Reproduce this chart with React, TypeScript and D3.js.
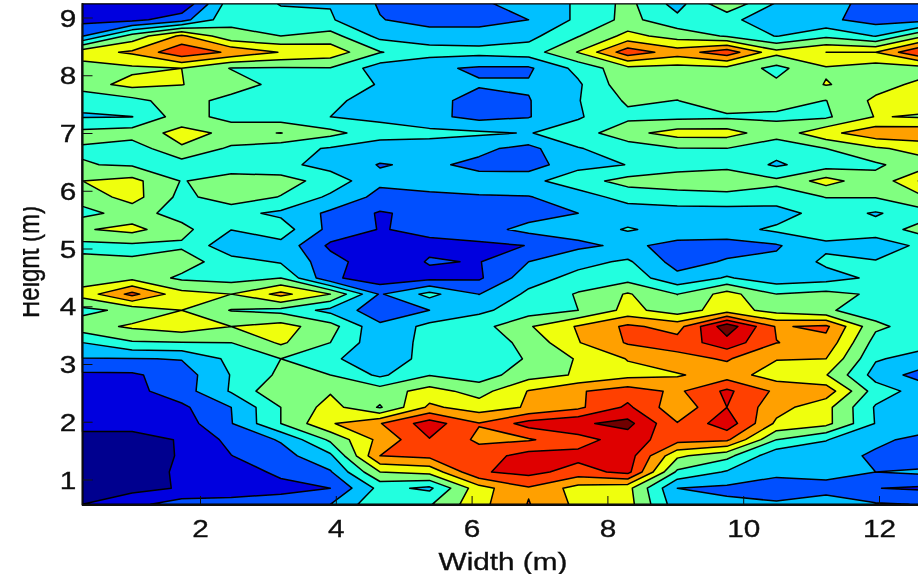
import React, { useEffect, useRef } from "react";
import * as d3 from "d3";

// grid positions of the measurements, in metres
const widths = [0.27, 1.0, 1.73, 2.46, 3.19, 3.92, 4.65, 5.38, 6.11, 6.84, 7.57, 8.3, 9.03, 9.76, 10.49, 11.22, 11.95, 12.69];
const heights = [9.24, 8.96, 8.68, 8.4, 8.12, 7.84, 7.56, 7.28, 7.0, 6.73, 6.45, 6.17, 5.89, 5.61, 5.33, 5.05, 4.77, 4.49, 4.21, 3.93, 3.65, 3.37, 3.09, 2.81, 2.53, 2.25, 1.97, 1.69, 1.41, 1.13, 0.85, 0.57];

const xTicks = [2, 4, 6, 8, 10, 12];
const yTicks = [1, 2, 3, 4, 5, 6, 7, 8, 9];
const levels = [0, 1, 2, 3, 4, 5, 6, 7, 8, 9, 10];

// one list per height, top of the plot first
const r31 = [1.1, 1.1, 1.1, 4.6, 3.95, 3.95, 2.9, 2.7, 2.8, 3.5, 4.1, 5.3, 3.6, 5.8, 3.9, 3.3, 2.7, 2.3];
const r30 = [1.7, 1.7, 2.6, 4.8, 4.3, 4.1, 3.05, 2.6, 2.6, 3.0, 4.2, 5.3, 4.3, 4.3, 3.3, 3.2, 2.6, 2.7];
const r29 = [2.95, 5.4, 7.2, 5.23, 5.0, 5.4, 3.7, 3.5, 3.5, 3.7, 4.95, 6.3, 5.6, 4.9, 3.95, 4.8, 3.95, 6.0];
const r28 = [6.6, 7.15, 8.75, 7.8, 6.95, 6.6, 5.05, 4.4, 4.3, 4.5, 6.05, 8.6, 7.5, 8.6, 6.3, 7.0, 7.0, 9.2];
const r27 = [5.5, 5.8, 6.0, 4.95, 4.9, 4.95, 3.5, 3.2, 2.85, 2.85, 4.3, 5.7, 5.6, 5.7, 4.7, 5.9, 5.5, 5.6];
const r26 = [5.6, 6.3, 6.02, 5.6, 4.6, 4.4, 3.95, 3.3, 3.1, 3.1, 3.85, 5.7, 5.5, 5.5, 5.2, 6.05, 5.6, 6.3];
const r25 = [4.15, 4.7, 5.5, 4.6, 4.5, 4.2, 3.6, 3.35, 2.6, 2.95, 3.95, 5.15, 4.98, 5.6, 5.3, 4.98, 6.2, 6.4];
const r24 = [3.95, 3.98, 5.5, 4.6, 4.5, 4.0, 3.8, 3.25, 2.7, 2.95, 3.9, 4.75, 4.75, 4.85, 4.85, 4.85, 6.05, 5.9];
const r23 = [5.3, 5.5, 6.3, 5.8, 6.02, 5.3, 4.4, 4.3, 4.15, 3.95, 4.5, 5.7, 6.4, 6.4, 5.4, 6.7, 7.65, 7.7];
const r22 = [4.9, 4.4, 5.9, 4.8, 4.4, 3.9, 3.5, 3.5, 3.2, 2.7, 3.95, 4.4, 4.95, 4.98, 4.4, 5.0, 5.85, 6.4];
const r21 = [5.05, 4.9, 4.5, 4.5, 4.3, 3.6, 2.95, 3.15, 2.8, 2.5, 3.7, 4.02, 4.6, 4.75, 3.85, 4.55, 4.85, 5.6];
const r20 = [6.0, 6.3, 4.95, 5.4, 5.4, 4.6, 3.2, 3.2, 3.3, 3.7, 4.6, 5.35, 5.5, 5.6, 5.2, 6.4, 5.3, 7.3];
const r19 = [5.4, 6.4, 4.7, 5.6, 4.95, 3.8, 2.7, 2.9, 2.95, 2.95, 3.5, 4.4, 4.6, 4.7, 4.6, 5.02, 5.05, 6.0];
const r18 = [4.7, 5.4, 4.6, 4.3, 3.8, 2.8, 1.9, 2.3, 2.5, 2.6, 3.0, 3.4, 3.5, 3.5, 3.5, 4.5, 3.9, 4.6];
const r17 = [5.9, 6.3, 5.3, 4.02, 4.5, 2.7, 1.95, 2.2, 2.6, 3.3, 3.4, 4.1, 3.6, 3.6, 4.2, 4.5, 4.4, 5.5];
const r16 = [4.7, 4.8, 4.85, 3.3, 3.7, 1.8, 1.3, 1.8, 1.8, 2.02, 2.8, 3.2, 2.7, 2.6, 2.9, 3.8, 3.6, 4.2];
const r15 = [5.3, 5.1, 5.5, 4.4, 3.9, 2.4, 1.3, 2.08, 1.95, 3.0, 3.7, 4.15, 2.6, 3.1, 3.2, 4.2, 4.05, 4.5];
const r14 = [5.5, 5.7, 4.8, 4.6, 5.0, 2.2, 1.4, 1.7, 1.85, 3.6, 4.3, 4.6, 3.3, 4.1, 3.4, 3.6, 4.2, 4.4];
const r13 = [6.4, 8.3, 6.35, 6.0, 7.3, 6.0, 2.9, 4.3, 2.98, 4.2, 5.1, 6.1, 4.98, 6.4, 5.0, 5.3, 4.85, 4.4];
const r12 = [4.7, 5.3, 6.0, 4.95, 4.7, 3.7, 2.4, 3.0, 3.8, 4.5, 5.0, 6.3, 5.5, 6.5, 5.6, 5.1, 4.6, 4.3];
const r11 = [5.6, 6.15, 6.6, 6.0, 6.4, 5.4, 3.2, 4.3, 4.6, 5.9, 7.1, 8.2, 7.6, 10.6, 7.9, 8.2, 5.2, 4.5];
const r10 = [4.0, 4.9, 4.95, 5.0, 6.15, 5.0, 3.3, 4.35, 4.4, 5.3, 6.95, 8.1, 8.4, 9.6, 8.02, 7.7, 4.6, 4.3];
const r9 = [2.95, 2.95, 3.05, 4.25, 5.0, 4.2, 3.3, 4.4, 4.3, 5.1, 6.1, 7.05, 7.7, 8.1, 7.05, 7.0, 4.1, 3.6];
const r8 = [1.8, 1.85, 2.5, 4.05, 5.2, 5.0, 3.8, 4.95, 4.5, 5.6, 6.1, 6.7, 6.9, 7.5, 6.5, 6.05, 3.6, 2.5];
const r7 = [1.6, 1.7, 2.55, 4.1, 5.9, 5.9, 5.5, 6.4, 5.6, 7.05, 7.9, 8.5, 7.8, 9.2, 7.8, 7.6, 4.5, 3.5];
const r6 = [1.5, 1.55, 1.8, 3.0, 5.0, 6.4, 4.9, 7.2, 6.5, 7.1, 7.8, 9.2, 7.3, 9.0, 7.4, 6.3, 3.9, 3.2];
const r5 = [1.2, 1.25, 1.5, 2.95, 5.0, 6.9, 7.95, 9.5, 8.05, 9.4, 9.85, 10.3, 8.05, 9.6, 6.8, 6.3, 3.95, 3.5];
const r4 = [0.8, 0.75, 1.05, 2.3, 3.1, 5.2, 7.3, 8.95, 7.8, 7.9, 8.6, 9.5, 8.4, 8.2, 5.0, 4.05, 3.2, 2.7];
const r3 = [0.7, 0.7, 1.05, 1.98, 2.6, 3.8, 8.0, 8.25, 8.5, 9.4, 9.3, 9.5, 6.2, 5.3, 3.3, 3.4, 2.85, 2.3];
const r2 = [0.7, 0.7, 1.1, 1.5, 2.2, 2.9, 6.0, 6.3, 8.9, 9.3, 8.6, 9.3, 4.8, 3.9, 3.2, 3.3, 3.0, 3.2];
const r1 = [0.7, 0.7, 1.08, 1.6, 1.7, 2.0, 4.3, 3.8, 6.6, 7.9, 6.6, 6.3, 3.0, 2.8, 2.6, 2.7, 2.02, 1.85];
const r0 = [1.0, 1.7, 2.5, 2.3, 2.5, 3.0, 4.8, 4.9, 6.7, 8.05, 6.75, 6.4, 3.4, 3.2, 3.1, 3.4, 3.1, 2.95];

const rows = [r31, r30, r29, r28, r27, r26, r25, r24, r23, r22, r21, r20, r19, r18, r17, r16, r15, r14, r13, r12, r11, r10, r9, r8, r7, r6, r5, r4, r3, r2, r1, r0];

const jet = ["#00008f", "#0000df", "#0050ff", "#00c0ff", "#20ffdf", "#80ff80", "#efff10", "#ffa000", "#ff4000", "#df0000", "#700000"];

const W = 918;
const H = 574;
const STRETCH = 1.24; // the picture is wider than it should be, letters too

const App = () => {
    const ref = useRef<SVGSVGElement>(null);

    useEffect(() => {
        const root = d3.select(ref.current);
        root.selectAll("*").remove();

        // the reference is a soft upscaled bitmap
        root.append("filter")
            .attr("id", "soft")
            .attr("filterUnits", "userSpaceOnUse")
            .attr("x", 0).attr("y", 0).attr("width", W).attr("height", H)
            .append("feGaussianBlur")
            .attr("stdDeviation", 0.5);
        const svg = root.append("g").attr("filter", "url(#soft)");
        svg.append("rect").attr("width", W).attr("height", H).attr("fill", "white");

        const x = d3.scaleLinear().domain([2, 12]).range([200, 879]);
        const y = d3.scaleLinear().domain([1, 9]).range([479.5, 17.5]);

        const nx = widths.length;
        const ny = heights.length;

        // d3.contours puts grid value i at i + 0.5, border pulled back onto the data
        const colToWidth = d3.scaleLinear().domain(d3.range(nx)).range(widths).clamp(true);
        const rowToHeight = d3.scaleLinear().domain(d3.range(ny)).range(heights).clamp(true);
        const toScreen = d3.geoTransform({
            point(px: number, py: number) {
                this.stream.point(x(colToWidth(px - 0.5)), y(rowToHeight(py - 0.5)));
            },
        });
        const path = d3.geoPath(toScreen);

        const contours = d3.contours().size([nx, ny]).thresholds(levels)(rows.flat());

        svg.append("g")
            .selectAll("path")
            .data(contours)
            .enter()
            .append("path")
            .attr("d", (d) => path(d))
            .attr("fill", (d, i) => jet[i])
            .attr("stroke", "#000")
            .attr("stroke-width", 1.5)
            .attr("stroke-linejoin", "round");

        const font = "'Liberation Sans', Arial, sans-serif";
        const styleText = (sel: any) =>
            sel.style("font-family", font)
                .style("font-size", "24px")
                .style("fill", "#111")
                .style("stroke", "#111")
                .style("stroke-width", 0.35);

        const xAxis = d3.axisBottom(x).tickValues(xTicks).tickSizeInner(-9).tickSizeOuter(0).tickFormat(d3.format("d"));
        const xG = svg.append("g").attr("transform", "translate(0,505)").call(xAxis);
        xG.select(".domain").remove();
        xG.selectAll(".tick line").attr("stroke", "#111").attr("stroke-width", 1);
        xG.selectAll(".tick text")
            .attr("y", 32)
            .attr("dy", 0)
            .attr("transform", `scale(${STRETCH},1)`)
            .call(styleText);

        const yAxis = d3.axisLeft(y).tickValues(yTicks).tickSizeInner(-10).tickSizeOuter(0).tickFormat(d3.format("d"));
        const yG = svg.append("g").attr("transform", "translate(82.5,0)").call(yAxis);
        yG.select(".domain").remove();
        yG.selectAll(".tick line").attr("stroke", "#111").attr("stroke-width", 1);
        yG.selectAll(".tick text")
            .attr("x", -5)
            .attr("dy", 8.5)
            .attr("text-anchor", "end")
            .attr("transform", `scale(${STRETCH},1)`)
            .call(styleText);

        // box round the plot
        svg.append("line").attr("x1", 82.5).attr("x2", W).attr("y1", 3.5).attr("y2", 3.5).attr("stroke", "#333").attr("stroke-width", 1.2);
        svg.append("line").attr("x1", 82.5).attr("x2", 82.5).attr("y1", 3).attr("y2", 505.5).attr("stroke", "#111").attr("stroke-width", 1.8);
        svg.append("line").attr("x1", 82).attr("x2", W).attr("y1", 505).attr("y2", 505).attr("stroke", "#111").attr("stroke-width", 1.8);

        svg.append("text")
            .attr("transform", `translate(503,570) scale(${STRETCH},1)`)
            .attr("text-anchor", "middle")
            .call(styleText)
            .text("Width (m)");

        // the scan cuts the tops of the y label off
        svg.append("clipPath").attr("id", "ylabel-clip").append("rect").attr("x", 23).attr("y", 0).attr("width", 60).attr("height", H);
        svg.append("g")
            .attr("clip-path", "url(#ylabel-clip)")
            .append("text")
            .attr("transform", `translate(39,262) scale(${STRETCH},1) rotate(-90)`)
            .attr("text-anchor", "middle")
            .call(styleText)
            .text("Height (m)");
    }, []);

    return <svg ref={ref} width={W} height={H} style={{ position: "absolute", left: 0, top: 0 }} />;
};

export default App;
